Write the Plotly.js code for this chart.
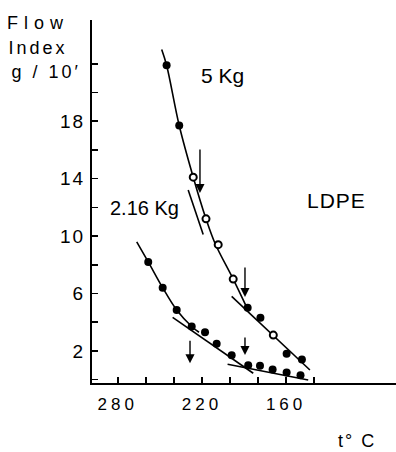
<!DOCTYPE html>
<html>
<head>
<meta charset="utf-8">
<script src="https://cdn.plot.ly/plotly-3.0.1.min.js"></script>
<style>
html,body{margin:0;padding:0;background:#fff;}
#chart{width:396px;height:452px;}
</style>
</head>
<body>
<div id="chart"></div>
<script>
// ---- data ----
// 5 Kg load: filled points
const x5Filled = [245.2, 236.2, 187.4, 178.3, 159.6, 148.7];
const y5Filled = [21.9, 17.7, 5.0, 4.3, 1.8, 1.4];
// 5 Kg load: open points
const x5Open = [226.2, 217.1, 208.4, 197.7, 169.1];
const y5Open = [14.1, 11.2, 9.4, 7.0, 3.1];
// 2.16 Kg load points
const x216 = [258.3, 248.0, 238.0, 227.3, 217.8, 209.5, 198.8, 187.0, 178.6, 169.6, 159.6, 149.7];
const y216 = [8.2, 6.4, 4.85, 3.7, 3.3, 2.5, 1.7, 1.0, 0.97, 0.7, 0.5, 0.3];

// hand-drawn curves / tangents
const curve5x = [248.7, 245.2, 236.2, 226.2, 217.1, 210.7, 197.7, 187.9];
const curve5y = [23.0, 21.9, 17.7, 14.1, 11.2, 9.5, 7.0, 5.0];
const tan5x = [229.8, 219.1];
const tan5y = [13.2, 10.1];
const low5x = [198.8, 143.0];
const low5y = [5.8, 0.67];
const curve216x = [266.5, 258.3, 248.0, 238.0, 227.3, 222.1];
const curve216y = [9.6, 8.2, 6.4, 4.85, 3.7, 3.3];
const mid216x = [240.9, 183.4];
const mid216y = [4.34, 0.44];
const low216x = [201.7, 144.2];
const low216y = [1.07, -0.03];

// transition arrows (tip positions)
const arrowX = [221.4, 189.3, 228.5, 189.3];
const arrowY = [13.0, 5.75, 1.14, 1.71];
const arrowLen = [45, 31, 24, 19];

// ticks
const xTickVals = [280, 260, 240, 220, 200, 180, 160, 140];
const xTickText = ['280', '', '', '220', '', '', '160', ''];
const yTickVals = [0, 2, 4, 6, 8, 10, 12, 14, 16, 18, 20, 22];
const yTickText = ['', '2', '', '6', '', '10', '', '14', '', '18', '', ''];

const FONT = 'Liberation Sans, Arial, sans-serif';
const lineStyle = {color: '#000', width: 1.6};

const traces = [
  {x: curve5x, y: curve5y, mode: 'lines', line: Object.assign({shape: 'spline'}, lineStyle)},
  {x: tan5x, y: tan5y, mode: 'lines', line: lineStyle},
  {x: low5x, y: low5y, mode: 'lines', line: lineStyle},
  {x: curve216x, y: curve216y, mode: 'lines', line: Object.assign({shape: 'spline'}, lineStyle)},
  {x: mid216x, y: mid216y, mode: 'lines', line: lineStyle},
  {x: low216x, y: low216y, mode: 'lines', line: lineStyle},
  {x: x5Filled, y: y5Filled, mode: 'markers', marker: {color: '#000', size: 8}},
  {x: x5Open, y: y5Open, mode: 'markers', marker: {color: '#fff', size: 7, line: {color: '#000', width: 2}}},
  {x: x216, y: y216, mode: 'markers', marker: {color: '#000', size: 8}}
];

function label(px, py, text, size) {
  return {xref: 'paper', yref: 'paper', x: (px - 92) / 304, y: (383 - py) / 363,
          xanchor: 'center', yanchor: 'middle', text: text, showarrow: false,
          font: {size: size}};
}
const annotations = [
  label(38, 23, 'Flow', 18),
  label(38, 48, 'Index', 18),
  label(46, 72, 'g / 10\u2032', 18),
  label(222, 75, '5 Kg', 21),
  label(144, 208, '2.16 Kg', 20),
  label(336, 200.5, 'LDPE', 21),
  label(357, 441, 't\u00b0 C', 18)
];
const spacing = ['6px', '3px', '3px', '0px', '0px', '1px', '2px'];
for (let i = 0; i < arrowX.length; i++) {
  annotations.push({
    x: arrowX[i], y: arrowY[i], ax: 0, ay: -arrowLen[i], text: '', showarrow: true,
    arrowhead: 2, arrowsize: 1.3, arrowwidth: 1.4, arrowcolor: '#000'
  });
}

const layout = {
  width: 396, height: 452,
  margin: {l: 92, r: 0, t: 20, b: 69},
  paper_bgcolor: '#fff', plot_bgcolor: '#fff',
  showlegend: false,
  font: {family: FONT, color: '#000', size: 17},
  xaxis: {
    range: [298.4, 81.6], showgrid: false, zeroline: false,
    showline: true, linecolor: '#000', linewidth: 2,
    ticks: 'inside', ticklen: 6, tickwidth: 1.5, tickcolor: '#000',
    tickmode: 'array', tickvals: xTickVals, ticktext: xTickText,
    ticklabelstandoff: 5, tickfont: {size: 17}
  },
  yaxis: {
    range: [-0.237, 25.05], showgrid: false, zeroline: false,
    showline: true, linecolor: '#000', linewidth: 2,
    ticks: 'inside', ticklen: 6, tickwidth: 1.5, tickcolor: '#000',
    tickmode: 'array', tickvals: yTickVals, ticktext: yTickText,
    ticklabelstandoff: 1, tickfont: {size: 19}
  },
  annotations: annotations
};

Plotly.newPlot('chart', traces, layout, {staticPlot: true, displayModeBar: false}).then(function (gd) {
  gd.querySelectorAll('.xtick text').forEach(function (t) { t.style.letterSpacing = '4px'; });
  gd.querySelectorAll('.ytick text').forEach(function (t) { t.style.letterSpacing = '2px'; });
  const ann = gd.querySelectorAll('.annotation-text');
  for (let i = 0; i < spacing.length && i < ann.length; i++) ann[i].style.letterSpacing = spacing[i];
});
</script>
</body>
</html>
